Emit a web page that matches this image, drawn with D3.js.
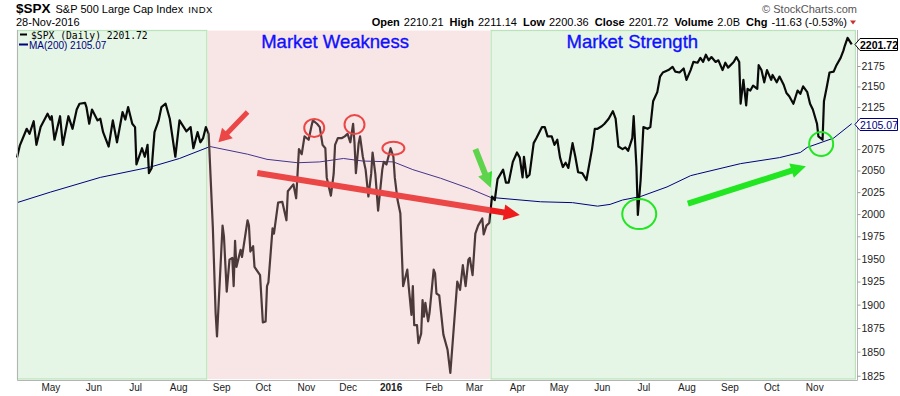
<!DOCTYPE html>
<html>
<head>
<meta charset="utf-8">
<script src="https://cdn.jsdelivr.net/npm/d3@7"></script>
<style>
  body { margin: 0; background: #fff; }
  svg { display: block; font-family: "Liberation Sans", Arial, sans-serif; }
</style>
</head>
<body>
<div id="chart"></div>
<script>
// --- data ---
var spxDaily = [
  ["2015-04-07",2065],["2015-04-09",2079],["2015-04-14",2099],["2015-04-16",2093],["2015-04-19",2108],
  ["2015-04-21",2080],["2015-04-24",2101],["2015-04-29",2117],["2015-05-01",2110],["2015-05-02",2114],
  ["2015-05-04",2086],["2015-05-08",2114],["2015-05-10",2080],["2015-05-14",2114],["2015-05-17",2099],
  ["2015-05-20",2122],["2015-05-22",2129],["2015-05-26",2130],["2015-05-27",2125],["2015-05-29",2105],
  ["2015-05-31",2122],["2015-06-04",2109],["2015-06-06",2111],["2015-06-08",2095],["2015-06-12",2078],
  ["2015-06-15",2109],["2015-06-18",2083],["2015-06-22",2119],["2015-06-24",2110],["2015-06-26",2125],
  ["2015-06-29",2105],["2015-07-01",2101],["2015-07-02",2057],["2015-07-06",2076],["2015-07-08",2066],
  ["2015-07-10",2080],["2015-07-11",2047],["2015-07-13",2053],["2015-07-15",2095],["2015-07-18",2109],
  ["2015-07-20",2125],["2015-07-23",2129],["2015-07-26",2111],["2015-07-30",2066],["2015-08-02",2109],
  ["2015-08-07",2096],["2015-08-10",2101],["2015-08-12",2076],["2015-08-15",2095],["2015-08-17",2083],
  ["2015-08-19",2088],["2015-08-21",2101],["2015-08-23",2093],["2015-08-26",1985],["2015-08-28",1891],
  ["2015-08-29",1866],["2015-09-02",1987],["2015-09-03",1975],["2015-09-05",1914],["2015-09-07",1949],
  ["2015-09-09",1951],["2015-09-10",1920],["2015-09-11",1970],["2015-09-12",1941],["2015-09-15",1960],
  ["2015-09-16",1952],["2015-09-20",1993],["2015-09-21",1987],["2015-09-22",1958],["2015-09-24",1964],
  ["2015-09-25",1941],["2015-09-29",1932],["2015-10-01",1881],["2015-10-03",1882],["2015-10-04",1920],
  ["2015-10-05",1924],["2015-10-08",1984],["2015-10-09",1978],["2015-10-12",2013],["2015-10-15",2014],
  ["2015-10-18",1993],["2015-10-19",2026],["2015-10-23",2034],["2015-10-25",2018],["2015-10-27",2075],
  ["2015-10-29",2069],["2015-10-31",2090],["2015-11-03",2086],["2015-11-05",2102],["2015-11-06",2109],
  ["2015-11-09",2105],["2015-11-11",2101],["2015-11-13",2080],["2015-11-15",2076],["2015-11-16",2042],
  ["2015-11-19",2021],["2015-11-21",2046],["2015-11-22",2080],["2015-11-24",2088],["2015-11-27",2088],
  ["2015-11-29",2090],["2015-12-01",2093],["2015-12-03",2083],["2015-12-05",2105],["2015-12-06",2082],
  ["2015-12-07",2047],["2015-12-09",2082],["2015-12-10",2090],["2015-12-12",2066],["2015-12-14",2051],
  ["2015-12-16",2020],["2015-12-18",2046],["2015-12-19",2071],["2015-12-21",2046],["2015-12-23",2004],
  ["2015-12-26",2051],["2015-12-27",2060],["2015-12-29",2057],["2016-01-01",2076],["2016-01-03",2066],
  ["2016-01-04",2042],["2016-01-06",2016],["2016-01-08",2001],["2016-01-10",1920],["2016-01-13",1938],
  ["2016-01-14",1920],["2016-01-16",1889],["2016-01-17",1920],["2016-01-18",1878],["2016-01-20",1878],
  ["2016-01-21",1859],["2016-01-23",1869],["2016-01-24",1905],["2016-01-25",1887],["2016-01-26",1902],
  ["2016-01-28",1882],["2016-01-29",1891],["2016-02-01",1938],["2016-02-02",1934],["2016-02-03",1912],
  ["2016-02-05",1910],["2016-02-08",1868],["2016-02-11",1852],["2016-02-13",1828],["2016-02-15",1866],
  ["2016-02-18",1925],["2016-02-20",1916],["2016-02-22",1943],["2016-02-24",1920],["2016-02-26",1949],
  ["2016-02-27",1951],["2016-02-29",1932],["2016-03-02",1978],["2016-03-04",1987],["2016-03-07",1995],
  ["2016-03-08",1977],["2016-03-10",1987],["2016-03-12",1990],["2016-03-14",2020],["2016-03-16",2016],
  ["2016-03-18",2040],["2016-03-22",2051],["2016-03-24",2036],["2016-03-26",2036],["2016-03-29",2060],
  ["2016-04-01",2071],["2016-04-03",2065],["2016-04-05",2042],["2016-04-06",2066],["2016-04-08",2042],
  ["2016-04-10",2045],["2016-04-13",2082],["2016-04-15",2088],["2016-04-19",2101],["2016-04-21",2101],
  ["2016-04-23",2090],["2016-04-26",2090],["2016-04-28",2080],["2016-04-30",2086],["2016-05-02",2065],
  ["2016-05-04",2054],["2016-05-06",2059],["2016-05-08",2053],["2016-05-11",2082],["2016-05-13",2066],
  ["2016-05-15",2048],["2016-05-18",2047],["2016-05-21",2039],["2016-05-22",2048],["2016-05-25",2075],
  ["2016-05-27",2099],["2016-05-29",2099],["2016-06-01",2102],["2016-06-03",2105],["2016-06-06",2111],
  ["2016-06-09",2120],["2016-06-11",2111],["2016-06-13",2078],["2016-06-16",2075],["2016-06-18",2077],
  ["2016-06-20",2073],["2016-06-23",2088],["2016-06-24",2114],["2016-06-26",2054],["2016-06-27",1999],
  ["2016-06-29",2039],["2016-07-01",2101],["2016-07-04",2099],["2016-07-06",2101],["2016-07-08",2132],
  ["2016-07-11",2143],["2016-07-13",2162],["2016-07-15",2167],["2016-07-19",2170],["2016-07-22",2174],
  ["2016-07-24",2168],["2016-07-27",2167],["2016-07-30",2172],["2016-08-01",2158],["2016-08-04",2170],
  ["2016-08-06",2180],["2016-08-09",2179],["2016-08-11",2185],["2016-08-13",2180],["2016-08-15",2189],
  ["2016-08-17",2182],["2016-08-19",2186],["2016-08-22",2180],["2016-08-24",2182],["2016-08-27",2170],
  ["2016-08-29",2179],["2016-08-31",2173],["2016-09-04",2180],["2016-09-06",2186],["2016-09-08",2180],
  ["2016-09-09",2129],["2016-09-11",2158],["2016-09-13",2127],["2016-09-14",2147],["2016-09-16",2145],
  ["2016-09-18",2151],["2016-09-21",2147],["2016-09-22",2176],["2016-09-24",2170],["2016-09-26",2155],
  ["2016-09-28",2170],["2016-10-01",2158],["2016-10-02",2164],["2016-10-05",2155],["2016-10-07",2162],
  ["2016-10-10",2152],["2016-10-12",2142],["2016-10-14",2138],["2016-10-17",2129],["2016-10-20",2145],
  ["2016-10-22",2141],["2016-10-24",2150],["2016-10-27",2143],["2016-10-29",2129],["2016-10-31",2122],
  ["2016-11-03",2105],["2016-11-04",2090],["2016-11-07",2086],["2016-11-08",2132],["2016-11-10",2149],
  ["2016-11-12",2167],["2016-11-15",2168],["2016-11-17",2176],["2016-11-20",2185],["2016-11-22",2194],
  ["2016-11-23",2200],["2016-11-25",2210],["2016-11-28",2201.72]
]

var ma200 = [
  ["2015-04-07",2013],["2015-05-01",2025],["2015-06-06",2042],["2015-07-12",2054],["2015-08-02",2064],
  ["2015-08-24",2078],["2015-09-20",2069],["2015-10-04",2063],["2015-10-26",2059],["2015-11-11",2060],
  ["2015-11-28",2064],["2015-12-12",2061],["2016-01-03",2060],["2016-01-17",2051],["2016-02-06",2041],
  ["2016-02-27",2029],["2016-03-13",2019],["2016-04-18",2014],["2016-05-11",2013],["2016-05-29",2009],
  ["2016-06-07",2011],["2016-06-16",2016],["2016-06-29",2020],["2016-07-18",2031],["2016-08-04",2044],
  ["2016-08-09",2046],["2016-09-09",2058],["2016-10-07",2065],["2016-10-22",2071],["2016-10-27",2077],
  ["2016-11-15",2088],["2016-11-28",2105.07]
]

// 2100 sits under the MA price tag, so only its tick mark shows
var priceTicks = [1825,1850,1875,1900,1925,1950,1975,2000,2025,2050,2075,2100,2125,2150,2175]

// shaded zones: [start, end, kind]
var zones = [
  ["2015-04-07","2015-08-22","strength"],
  ["2015-08-22","2016-03-13","weakness"],
  ["2016-03-13","2016-12-01","strength"]
]
var zoneTitles = ["Market Weakness","Market Strength"]
var zoneTitleDates = ["2015-11-22","2016-06-23"]

// annotations, in [date, price]
var redArrows = [
  [["2015-09-20",2119],["2015-08-30",2083]],
  [["2015-09-27",2047],["2016-04-03",1999]]
]
var greenArrows = [
  [["2016-03-02",2075],["2016-03-13",2030]],
  [["2016-08-02",2012],["2016-10-26",2055]]
]
var redCircles = [["2015-11-07",2100],["2015-12-06",2104],["2016-01-03",2076]]
var greenCircles = [["2016-06-28",2000],["2016-11-06",2081]]

var headerStats = [["Open","2210.21"],["High","2211.14"],["Low","2200.36"],["Close","2201.72"],["Volume","2.0B"],["Chg","-11.63 (-0.53%)"]]

// --- layout ---
const W = 900, H = 396
const PLOT = { left: 17, right: 857, top: 30, bottom: 380 }

const parse = d3.utcParse("%Y-%m-%d")

var svg = d3.select("#chart").append("svg")
    .attr("width", W)
    .attr("height", H)

var x = d3.scaleUtc()
    .domain([parse("2015-04-07"), new Date(Date.UTC(2016, 11, 1, 19))])
    .range([PLOT.left, PLOT.right])

// StockCharts draws price on a log scale
var y = d3.scaleLog()
    .domain([1820.6, 2219.8])
    .range([PLOT.bottom, PLOT.top])

var pt = d => [x(parse(d[0])), y(d[1])]

// green zones under everything
svg.append("g").selectAll("rect")
    .data(zones.filter(z => z[2] === "strength"))
    .enter().append("rect")
    .attr("x", d => x(parse(d[0])) + 0.5)
    .attr("y", PLOT.top + 0.5)
    .attr("width", d => Math.min(x(parse(d[1])), PLOT.right) - x(parse(d[0])) - 1)
    .attr("height", PLOT.bottom - PLOT.top - 1.5)
    .style("fill", "#e6f6e6")
    .style("stroke", "#b9e3b9")
    .style("stroke-width", 1.2)

// MA(200)
svg.append("path")
    .datum(ma200)
    .attr("d", d3.line().x(d => x(parse(d[0]))).y(d => y(d[1])))
    .style("fill", "none")
    .style("stroke", "#000080")
    .style("stroke-width", 1)

// price line
svg.append("path")
    .datum(spxDaily)
    .attr("d", d3.line().x(d => x(parse(d[0]))).y(d => y(d[1])))
    .style("fill", "none")
    .style("stroke", "#0a0a0a")
    .style("stroke-width", 2.2)
    .style("stroke-linejoin", "round")

// arrow shape built from two screen points
function arrowPath(p0, p1, w, hl, hw) {
    var dx = p1[0] - p0[0], dy = p1[1] - p0[1], L = Math.hypot(dx, dy)
    var ux = dx / L, uy = dy / L, nx = -uy, ny = ux
    var bx = p1[0] - ux * hl, by = p1[1] - uy * hl
    var pts = [
        [p0[0] + nx * w / 2, p0[1] + ny * w / 2],
        [bx + nx * w / 2, by + ny * w / 2],
        [bx + nx * hw / 2, by + ny * hw / 2],
        p1,
        [bx - nx * hw / 2, by - ny * hw / 2],
        [bx - nx * w / 2, by - ny * w / 2],
        [p0[0] - nx * w / 2, p0[1] - ny * w / 2]
    ]
    return d3.line()(pts) + "Z"
}

var arrowSizes = [[5, 13, 15], [6, 16, 16]]
var annot = svg.append("g").attr("class", "annotations")

annot.selectAll(".red-arrow")
    .data(redArrows)
    .enter().append("path")
    .attr("class", "red-arrow")
    .attr("d", (d, i) => arrowPath(pt(d[0]), pt(d[1]), arrowSizes[i][0], arrowSizes[i][1], arrowSizes[i][2]))
    .style("fill", "#ee1c1c")

annot.selectAll(".green-arrow")
    .data(greenArrows)
    .enter().append("path")
    .attr("class", "green-arrow")
    .attr("d", (d, i) => arrowPath(pt(d[0]), pt(d[1]), 6, 15, 15))
    .style("fill", "#22e622")

var redRadii = [[10, 9], [10, 9.5], [11, 6.5]]
annot.selectAll(".red-circle")
    .data(redCircles)
    .enter().append("ellipse")
    .attr("cx", d => pt(d)[0])
    .attr("cy", d => pt(d)[1])
    .attr("rx", (d, i) => redRadii[i][0])
    .attr("ry", (d, i) => redRadii[i][1])
    .style("fill", "none")
    .style("stroke", "#ee1c1c")
    .style("stroke-width", 2)

var greenRadii = [[17, 15], [12, 12]]
annot.selectAll(".green-circle")
    .data(greenCircles)
    .enter().append("ellipse")
    .attr("cx", d => pt(d)[0])
    .attr("cy", d => pt(d)[1])
    .attr("rx", (d, i) => greenRadii[i][0])
    .attr("ry", (d, i) => greenRadii[i][1])
    .style("fill", "none")
    .style("stroke", "#22e622")
    .style("stroke-width", 2)

// pink zone is a translucent wash laid over the marks
svg.append("g").selectAll("rect")
    .data(zones.filter(z => z[2] === "weakness"))
    .enter().append("rect")
    .attr("x", d => x(parse(d[0])) + 0.5)
    .attr("y", PLOT.top + 0.5)
    .attr("width", d => x(parse(d[1])) - x(parse(d[0])) - 1)
    .attr("height", PLOT.bottom - PLOT.top - 1.5)
    .style("fill", "rgb(231,172,172)")
    .style("opacity", 0.3)

svg.append("g").selectAll("text")
    .data(zoneTitles)
    .enter().append("text")
    .attr("x", (d, i) => x(parse(zoneTitleDates[i])))
    .attr("y", 48)
    .style("text-anchor", "middle")
    .style("font-size", "18.5px")
    .style("fill", "#1010ff")
    .style("stroke", "#1010ff")
    .style("stroke-width", 0.35)
    .text(d => d)

// frame
svg.append("path")
    .attr("d", `M${PLOT.left + 0.5},${PLOT.top}V${PLOT.bottom + 0.5}H${PLOT.right + 0.5}V${PLOT.top}`)
    .style("fill", "none")
    .style("stroke", "#b4b4b4")

// right price axis
var yAxis = svg.append("g")
    .attr("transform", `translate(${PLOT.right + 0.5},0)`)
    .call(d3.axisRight(y).tickValues(priceTicks).tickFormat(d3.format("d")).tickSize(3).tickPadding(1))
yAxis.select(".domain").remove()
yAxis.selectAll("line").style("stroke", "#999")
yAxis.selectAll("text").style("font-size", "10.5px").style("fill", "#222").style("font-family", "Liberation Sans, Arial, sans-serif")
yAxis.selectAll(".tick").filter(d => d === 2100).select("text").remove()

// bottom date axis
var months = d3.utcMonths(parse("2015-04-07"), parse("2016-12-01"))
var xAxis = svg.append("g")
    .attr("transform", `translate(0,${PLOT.bottom})`)
    .call(d3.axisBottom(x).tickValues(months).tickSize(0).tickPadding(4)
        .tickFormat(d => d.getUTCMonth() === 0 ? d3.utcFormat("%Y")(d) : d3.utcFormat("%b")(d)))
xAxis.select(".domain").remove()
xAxis.selectAll("text")
    .style("font-size", "10px")
    .style("fill", "#222")
    .style("font-family", "Liberation Sans, Arial, sans-serif")
    .style("font-weight", d => d.getUTCMonth() === 0 ? "bold" : "normal")

// price tags on the right edge
function priceTag(value, color, bold) {
    var yy = Math.round(y(value)) + 0.5
    var g = svg.append("g")
    g.append("path")
        .attr("d", `M${PLOT.right - 2},${yy}L${PLOT.right + 3},${yy - 6}H897.5V${yy + 6}H${PLOT.right + 3}Z`)
        .style("fill", "#fff")
        .style("stroke", color)
        .style("stroke-width", 1)
    g.append("text")
        .attr("x", 879)
        .attr("y", yy + 4)
        .style("text-anchor", "middle")
        .style("font-size", "10.5px")
        .style("font-weight", bold ? "bold" : "normal")
        .style("fill", color)
        .text(value.toFixed(2))
}
priceTag(ma200[ma200.length - 1][1], "#000080", false)
priceTag(spxDaily[spxDaily.length - 1][1], "#000", true)

// header
var title = svg.append("text").attr("x", 16).attr("y", 13).style("fill", "#000")
title.append("tspan").style("font-weight", "bold").style("font-size", "13.5px").text("$SPX")
title.append("tspan").attr("dx", 5).style("font-size", "11px").text("S&P 500 Large Cap Index")
title.append("tspan").attr("dx", 5).style("font-size", "9.5px").style("letter-spacing", "0.5px").text("INDX")

svg.append("text")
    .attr("x", 16).attr("y", 25.5)
    .style("font-size", "11px")
    .text("28-Nov-2016")

var stats = svg.append("text")
    .attr("x", 847).attr("y", 25.5)
    .style("text-anchor", "end")
    .style("font-size", "11px")
headerStats.forEach(function(s, i) {
    stats.append("tspan").attr("dx", i ? 6 : 0).style("font-weight", "bold").text(s[0])
    stats.append("tspan").attr("dx", 4).text(s[1])
})
svg.append("path")
    .attr("d", "M850,20.5H856L853,24.5Z")
    .style("fill", "#c83232")

svg.append("text")
    .attr("x", 857).attr("y", 13)
    .style("text-anchor", "end")
    .style("font-size", "11px")
    .style("fill", "#555")
    .text("\u00A9 StockCharts.com")

// legend
svg.append("line").attr("x1", 20).attr("x2", 27).attr("y1", 34.5).attr("y2", 34.5)
    .style("stroke", "#000").style("stroke-width", 2)
svg.append("text")
    .attr("x", 31).attr("y", 38.5)
    .style("font-family", "DejaVu Sans Mono, monospace")
    .style("font-size", "9.7px")
    .text("$SPX (Daily) " + spxDaily[spxDaily.length - 1][1].toFixed(2))
svg.append("line").attr("x1", 19).attr("x2", 28).attr("y1", 44.5).attr("y2", 44.5)
    .style("stroke", "#000080").style("stroke-width", 2)
svg.append("text")
    .attr("x", 29).attr("y", 48.5)
    .style("font-size", "10px")
    .style("fill", "#000080")
    .text("MA(200) " + ma200[ma200.length - 1][1].toFixed(2))
</script>
</body>
</html>
